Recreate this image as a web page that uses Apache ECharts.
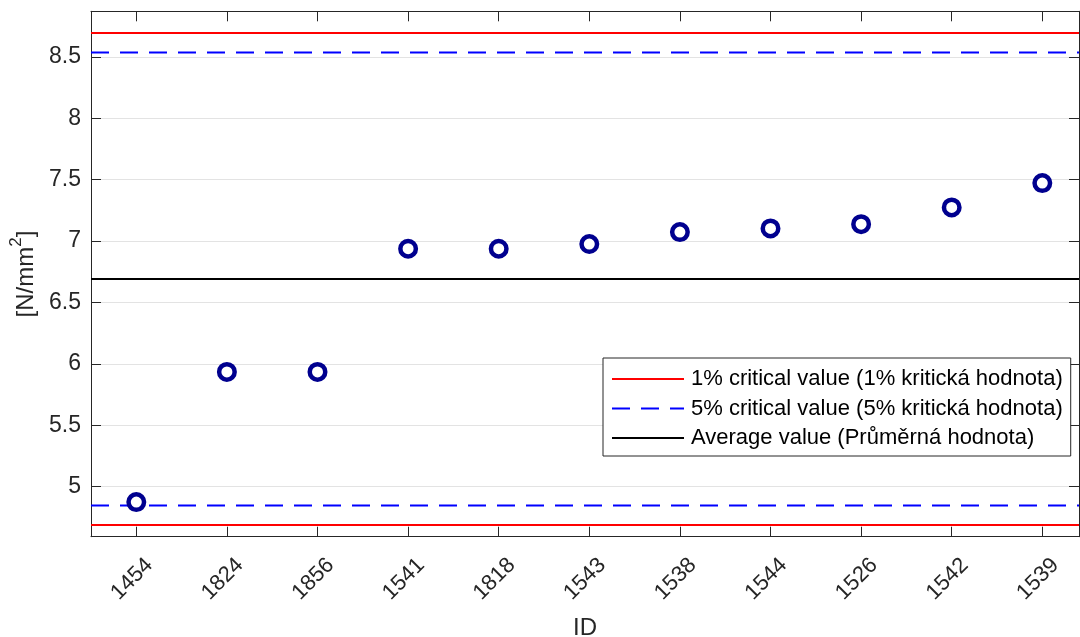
<!DOCTYPE html>
<html>
<head>
<meta charset="utf-8">
<script src="https://cdn.jsdelivr.net/npm/echarts@6/dist/echarts.min.js"></script>
<style>
  html, body { margin: 0; padding: 0; background: #fff; }
  #chart { width: 1080px; height: 637px; }
</style>
</head>
<body>
<div id="chart"></div>
<script>
// Specimen IDs, ordered by measured value
const ids = ['1454', '1824', '1856', '1541', '1818', '1543', '1538', '1544', '1526', '1542', '1539'];
// Measured values [N/mm²]
const values = [4.875, 5.935, 5.935, 6.938, 6.938, 6.976, 7.073, 7.103, 7.138, 7.274, 7.472];
// Reference levels
const average = 6.691;
const crit1 = [4.688, 8.695];
const crit5 = [4.847, 8.536];
// Y tick labels
const yTicks = [5, 5.5, 6, 6.5, 7, 7.5, 8, 8.5];

const X_MIN = 0.5, X_MAX = 11.405;
const Y_MIN = 4.593, Y_MAX = 8.871;
const xPos = ids.map((_, i) => i + 1);

const FONT = '"Liberation Sans", Arial, Helvetica, sans-serif';
const AX = '#262626';

function hLine(v) { return [[X_MIN, v], [X_MAX, v]]; }

const pairSeries = (name, levels, color, type) => levels.map(v => ({
  name: name,
  type: 'line',
  data: hLine(v),
  symbol: 'none',
  silent: true,
  z: 3,
  lineStyle: { color: color, width: 2, type: type },
  itemStyle: { color: color }
}));

const chart = echarts.init(document.getElementById('chart'), null, { renderer: 'canvas' });

chart.setOption({
  animation: false,
  backgroundColor: '#ffffff',
  textStyle: { fontFamily: FONT },
  grid: { left: 91, right: 1, top: 11.3, bottom: 100.3, containLabel: false, outerBoundsMode: 'none' },
  legend: {
    left: 603, top: 358,
    orient: 'vertical',
    backgroundColor: '#ffffff',
    borderColor: AX, borderWidth: 1, borderRadius: 0,
    padding: [10, 8, 7, 8],
    itemWidth: 72, itemHeight: 22, itemGap: 7.5,
    itemStyle: { opacity: 0 },
    textStyle: { fontFamily: FONT, fontSize: 22, color: '#000', padding: [0, 0, 0, 2] },
    data: [
      '1% critical value (1% kritická hodnota)',
      '5% critical value (5% kritická hodnota)',
      'Average value (Průměrná hodnota)'
    ]
  },
  xAxis: [{
    type: 'value', min: X_MIN, max: X_MAX, position: 'bottom',
    name: 'ID', nameLocation: 'middle', nameGap: 71,
    nameTextStyle: { fontFamily: FONT, fontSize: 24, color: AX },
    axisLine: { show: true, onZero: false, lineStyle: { color: AX, width: 1 } },
    axisTick: { show: true, inside: true, length: 10, customValues: xPos, lineStyle: { color: AX } },
    axisLabel: {
      customValues: xPos, rotate: 45, margin: 12,
      verticalAlign: 'top', lineHeight: 37,
      fontFamily: FONT, fontSize: 22, color: AX,
      formatter: v => ids[Math.round(v) - 1] || ''
    },
    splitLine: { show: false }
  }, {
    type: 'value', min: X_MIN, max: X_MAX, position: 'top',
    axisLine: { show: true, onZero: false, lineStyle: { color: AX, width: 1 } },
    axisTick: { show: true, inside: true, length: 10, customValues: xPos, lineStyle: { color: AX } },
    axisLabel: { show: false },
    splitLine: { show: false }
  }],
  yAxis: [{
    type: 'value', min: Y_MIN, max: Y_MAX, position: 'left',
    name: '{u|[N/mm}{s|2}{u|]}', nameLocation: 'middle', nameGap: 53,
    nameTextStyle: {
      fontFamily: FONT, fontSize: 24, color: AX,
      rich: {
        u: { fontFamily: FONT, fontSize: 24, color: AX, verticalAlign: 'bottom', lineHeight: 30 },
        s: { fontFamily: FONT, fontSize: 17, color: AX, verticalAlign: 'top', lineHeight: 30 }
      }
    },
    axisLine: { show: true, onZero: false, lineStyle: { color: AX, width: 1 } },
    axisTick: { show: true, inside: true, length: 10, customValues: yTicks, lineStyle: { color: AX } },
    axisLabel: {
      customValues: yTicks, margin: 10,
      fontFamily: FONT, fontSize: 23, color: AX,
      formatter: v => String(v)
    },
    splitLine: { show: true, lineStyle: { color: '#e3e3e3', width: 1 } }
  }, {
    type: 'value', min: Y_MIN, max: Y_MAX, position: 'right',
    axisLine: { show: true, onZero: false, lineStyle: { color: AX, width: 1 } },
    axisTick: { show: true, inside: true, length: 10, customValues: yTicks, lineStyle: { color: AX } },
    axisLabel: { show: false },
    splitLine: { show: false }
  }],
  series: [
    ...pairSeries('1% critical value (1% kritická hodnota)', crit1, '#ff0000', 'solid'),
    ...pairSeries('5% critical value (5% kritická hodnota)', crit5, '#0000ff', [18, 11]),
    {
      name: 'Average value (Průměrná hodnota)',
      type: 'line', data: hLine(average), symbol: 'none', silent: true, z: 3,
      lineStyle: { color: '#000000', width: 2 }, itemStyle: { color: '#000000' }
    },
    {
      name: 'values',
      type: 'scatter',
      data: xPos.map((x, i) => [x, values[i]]),
      symbol: 'circle', symbolSize: 15.5, z: 5,
      itemStyle: { color: '#ffffff', borderColor: '#00008f', borderWidth: 4.5, opacity: 1 }
    }
  ]
});
</script>
</body>
</html>
